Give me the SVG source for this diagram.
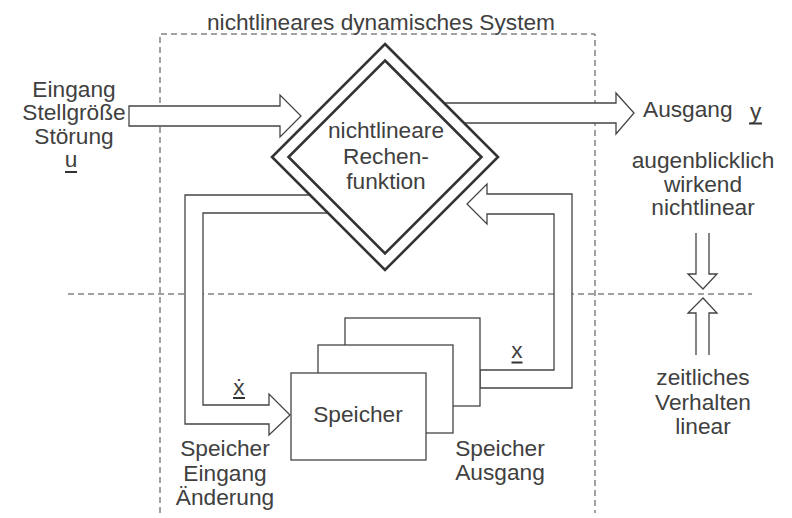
<svg xmlns="http://www.w3.org/2000/svg" width="792" height="518" viewBox="0 0 792 518">
<style>
text{font-family:"Liberation Sans",Arial,sans-serif;font-size:22.7px;fill:#404040;text-anchor:middle}
.st{text-anchor:start}
.dash{fill:none;stroke:#444;stroke-width:1;stroke-dasharray:6 4}
.arr{fill:#fff;stroke:#444;stroke-width:1.3;stroke-linejoin:miter}
.ln{fill:none;stroke:#444;stroke-width:1.3}
.box{fill:#fff;stroke:#444;stroke-width:1.3}
.dia{fill:#fff;stroke:#333;stroke-width:2.6}
.dia2{fill:none;stroke:#333;stroke-width:2.6}
.ul{fill:#333}
</style>
<g id="system-boundary">
<path class="dash" d="M160,513 V34 H595 V513"/>
<text x="381" y="30">nichtlineares dynamisches System</text>
</g>
<line class="dash" x1="68" y1="294" x2="752" y2="294"/>
<g id="connectors">
<path class="arr" d="M129,106 H280 V95 L301,116 L280,137 V126 H129 Z"/>
<path class="arr" d="M440,103 H616 V93 L634,113 L616,134 V123 H440 Z"/>
<path class="arr" d="M480,388 H572 V194 H487 V184 L467,204 L487,224 V214 H554 V370 H480 Z"/>
<path class="arr" d="M340,195 H185 V424 H269 V435 L290,415 L269,394 V405 H203 V213 H340 Z"/>
<path class="arr" d="M696,233 V274 H688 L703,289 L717,274 H709 V233"/>
<path class="arr" d="M696,355 V313 H688 L703,298 L717,313 H709 V355"/>
</g>
<g id="rechenfunktion">
<polygon class="dia" points="385,44 498,157 385,270 272,157"/>
<polygon class="dia2" points="385,60.5 481.5,157 385,253.5 288.5,157"/>
<text x="386" y="138">nichtlineare</text>
<text x="386" y="164">Rechen-</text>
<text x="386" y="189">funktion</text>
</g>
<g id="speicher">
<rect class="box" x="345" y="318" width="135" height="88"/>
<rect class="box" x="318" y="345" width="135" height="88"/>
<rect class="box" x="291" y="373" width="135" height="87"/>
<text x="358" y="422">Speicher</text>
</g>
<g id="eingang">
<text x="74" y="97">Eingang</text>
<text x="74" y="120">Stellgröße</text>
<text x="74" y="143.5">Störung</text>
<text x="71" y="166.5">u</text>
<rect class="ul" x="65" y="171" width="12" height="2"/>
</g>
<g id="ausgang">
<text class="st" x="643" y="117">Ausgang</text>
<text class="st" x="750" y="119">y</text>
<rect class="ul" x="749" y="122.5" width="13" height="2"/>
</g>
<g id="augenblicklich">
<text x="703" y="168">augenblicklich</text>
<text x="703" y="192">wirkend</text>
<text x="703" y="215">nichtlinear</text>
</g>
<g id="zeitlich">
<text x="703" y="385">zeitliches</text>
<text x="703" y="410">Verhalten</text>
<text x="703" y="434">linear</text>
</g>
<g id="speicher-eingang">
<text x="239" y="395">ẋ</text>
<rect class="ul" x="233" y="397" width="12" height="2"/>
<text x="225" y="456">Speicher</text>
<text x="225" y="481">Eingang</text>
<text x="225" y="505">Änderung</text>
</g>
<g id="speicher-ausgang">
<text x="517" y="358">x</text>
<rect class="ul" x="511.5" y="361.5" width="11" height="2"/>
<text x="500" y="456">Speicher</text>
<text x="500" y="480">Ausgang</text>
</g>
</svg>
